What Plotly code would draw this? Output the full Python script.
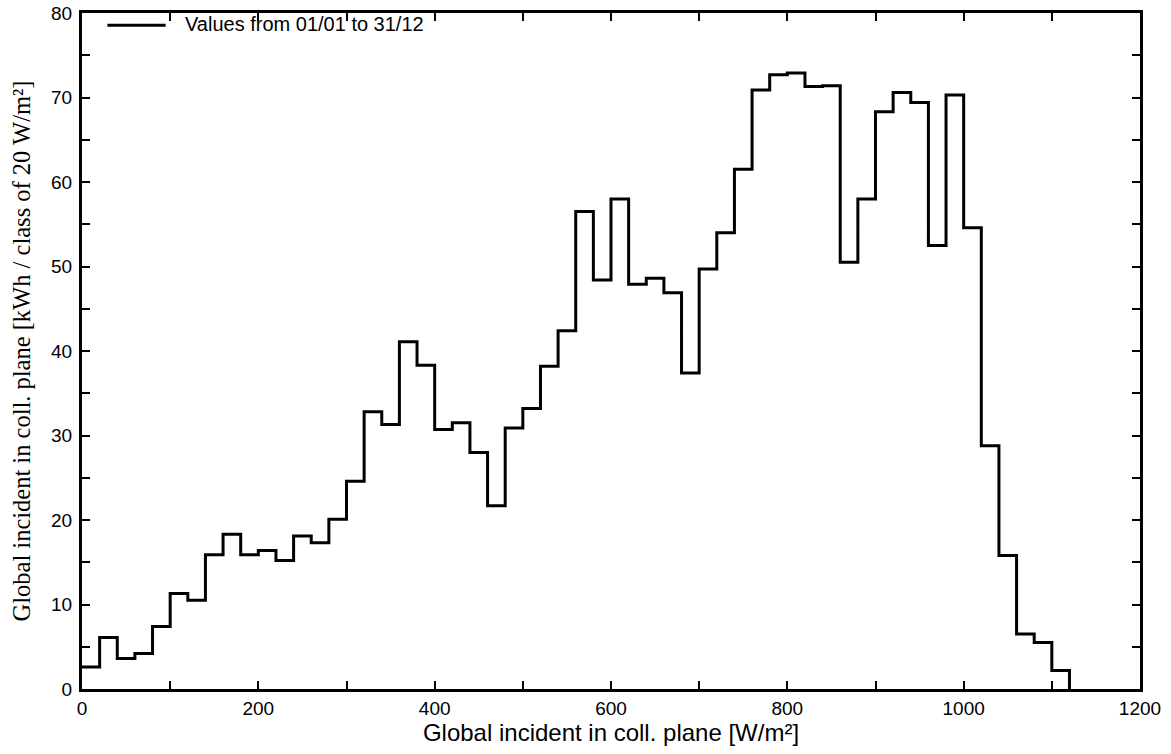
import plotly.graph_objects as go

# Irradiance classes of 20 W/m² (lower edges) and energy per class
class_edges = list(range(0, 1140, 20))
energy_kwh = [
    2.6, 6.1, 3.6, 4.2, 7.4, 11.3, 10.5, 15.9, 18.3, 15.9,
    16.4, 15.2, 18.1, 17.3, 20.1, 24.6, 32.8, 31.3, 41.1, 38.3,
    30.7, 31.5, 28.0, 21.7, 30.9, 33.2, 38.2, 42.4, 56.5, 48.4,
    58.0, 47.9, 48.6, 46.9, 37.4, 49.7, 54.0, 61.5, 70.9, 72.7,
    72.9, 71.3, 71.4, 50.5, 58.0, 68.3, 70.6, 69.4, 52.5, 70.3,
    54.6, 28.8, 15.8, 6.5, 5.5, 2.2,
]
series_name = "Values from 01/01 to 31/12"

# step outline: close the last class back down to zero
step_y = energy_kwh + [0]

fig = go.Figure()
fig.add_trace(go.Scatter(
    x=class_edges,
    y=step_y,
    mode="lines",
    line=dict(shape="hv", color="black", width=3),
    name=series_name,
    showlegend=False,
))

# legend sample drawn inside the frame
fig.add_shape(type="line", xref="paper", yref="paper",
              x0=0.024, x1=0.079, y0=0.982, y1=0.982,
              line=dict(color="black", width=3))
fig.add_annotation(xref="paper", yref="paper", x=0.095, y=0.983,
                   text=series_name, showarrow=False, xanchor="left",
                   yanchor="middle",
                   font=dict(family="Liberation Sans, Arial", size=20, color="black"))

axis_common = dict(
    showline=True, linecolor="black", linewidth=3, mirror="ticks",
    ticks="inside", ticklen=8, tickwidth=1.5, tickcolor="black",
    showgrid=False, zeroline=False, automargin=False,
    tickfont=dict(family="Liberation Sans, Arial", size=19, color="black"),
)

fig.update_xaxes(
    range=[0, 1200], dtick=200, tick0=0,
    minor=dict(ticks="inside", dtick=100, ticklen=8, tickwidth=1.5, tickcolor="black"),
    title=dict(text="Global incident in coll. plane [W/m²]", standoff=2,
               font=dict(family="Liberation Sans, Arial", size=24, color="black")),
    **axis_common,
)
fig.update_yaxes(
    range=[0, 80], dtick=10, tick0=0, ticklabelstandoff=3,
    minor=dict(ticks="inside", dtick=5, ticklen=8, tickwidth=1.5, tickcolor="black"),
    title=dict(text="Global incident in coll. plane [kWh / class of 20 W/m²]", standoff=14,
               font=dict(family="Liberation Serif, Times New Roman", size=24.5, color="black")),
    **axis_common,
)

fig.update_layout(
    width=1171, height=754,
    margin=dict(l=82, r=31, t=13, b=65),
    plot_bgcolor="white", paper_bgcolor="white",
    showlegend=False,
)

fig.write_html("out.html")
